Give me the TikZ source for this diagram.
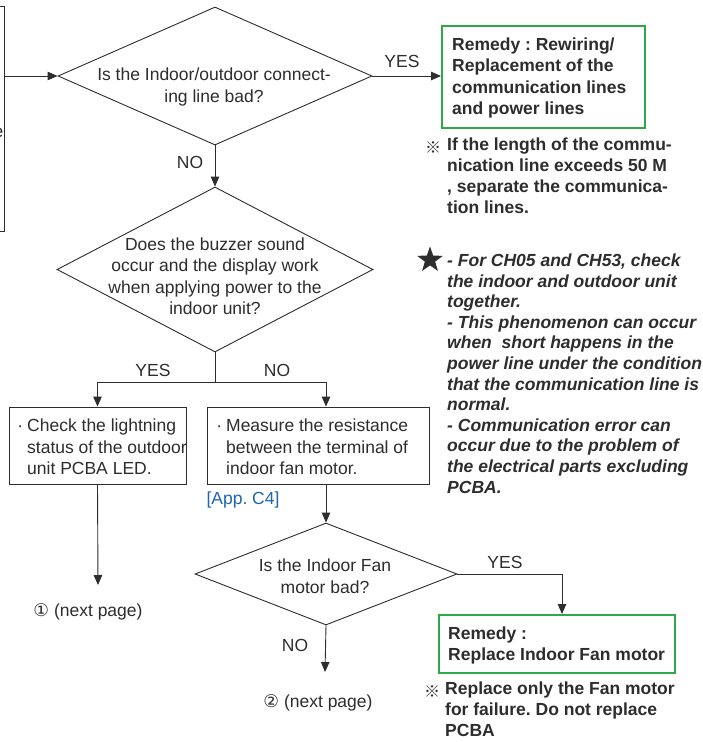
\documentclass[tikz,border=0pt]{standalone}
\usepackage{fontspec}
\setmainfont{Liberation Sans}
\newfontfamily\dejavu{DejaVu Sans}
\newfontfamily\cjkfont{Noto Sans CJK JP}
\usetikzlibrary{shapes.geometric,arrows.meta,calc}
\definecolor{ink}{RGB}{45,45,45}
\definecolor{remgreen}{RGB}{45,168,75}
\definecolor{appblue}{RGB}{30,100,175}
\frenchspacing
\tikzset{
  base/.style={font=\fontsize{17.5}{21.5}\selectfont, text=ink},
  dia/.style={diamond, draw=ink, line width=0.9pt, inner sep=0pt},
  procbox/.style={rectangle, draw=ink, line width=0.9pt, inner sep=0pt},
  greenbox/.style={rectangle, draw=remgreen, line width=2pt, inner sep=0pt},
  txt/.style={base, inner sep=0pt, align=center},
  ltxt/.style={base, inner sep=0pt, align=left},
  boldtxt/.style={ltxt, font=\fontsize{17.5}{21.5}\selectfont\bfseries},
  italtxt/.style={ltxt, font=\fontsize{17.5}{20.6}\selectfont\bfseries\itshape},
  notetxt/.style={ltxt, font=\fontsize{17.5}{21}\selectfont\bfseries},
  lbl/.style={base, inner sep=0pt},
  arr/.style={draw=ink, line width=0.9pt, -{Triangle[length=10pt,width=8.5pt]}},
  ln/.style={draw=ink, line width=0.9pt}
}
\begin{document}
\begin{tikzpicture}[x=1pt,y=-1pt]
\useasboundingbox (0,0) rectangle (702,742);
\clip (0,0) rectangle (702,742);
\fill[white] (0,0) rectangle (702,742);

% partial box on the left
\node[procbox, minimum width=64pt, minimum height=225pt] (lbox) at (-28,118.5) {};
\node[lbl, anchor=east] (lboxe) at (3.5,133) {e};

% diamonds
\node[dia, minimum width=314pt, minimum height=138pt] (d1) at (215,76) {};
\node[txt] (d1t) at (214,87) {Is the Indoor/outdoor connect-\\ing line bad?};

\node[dia, minimum width=316pt, minimum height=165pt] (d2) at (215,269.5) {};
\node[txt] (d2t) at (215,276) {Does the buzzer sound\\occur and the display work\\when applying power to the\\indoor unit?};

\node[dia, minimum width=262pt, minimum height=102pt] (d3) at (326,574) {};
\node[txt] (d3t) at (325,576) {Is the Indoor Fan\\motor bad?};

% process boxes
\node[procbox, minimum width=177pt, minimum height=77pt] (bl) at (97.5,445.5) {};
\node[ltxt, anchor=west] (blt) at (27,447) {\llap{·\hspace{4pt}}Check the lightning\\status of the outdoor\\unit PCBA LED.};

\node[procbox, minimum width=222pt, minimum height=77pt] (br) at (318,445.5) {};
\node[ltxt, anchor=west] (brt) at (226,447) {\llap{·\hspace{4pt}}Measure the resistance\\between the terminal of\\indoor fan motor.};

% green remedy boxes
\node[greenbox, minimum width=203pt, minimum height=102pt] (g1) at (543.5,77) {};
\node[boldtxt, anchor=west] (g1t) at (452,78) {Remedy : Rewiring/\\Replacement of the\\communication lines\\and power lines};

\node[greenbox, minimum width=236pt, minimum height=58pt] (g2) at (557,644) {};
\node[boldtxt, anchor=west] (g2t) at (448,645.5) {Remedy :\\Replace Indoor Fan motor};

% notes
\node[lbl, anchor=center, font=\cjkfont\fontsize{16}{20}\selectfont] (n1m) at (433,148) {※};
\node[notetxt, anchor=north west] (n1t) at (447,138) {If the length of the commu-\\nication line exceeds 50 M\\, separate the communica-\\tion lines.};

\node[star, star points=5, star point ratio=2.5, fill=ink, draw=none, minimum size=27pt, inner sep=0pt] (star) at (430,260) {};
\node[italtxt, anchor=west] (st) at (447,373.5) {- For CH05 and CH53, check\\the indoor and outdoor unit\\together.\\- This phenomenon can occur\\when\ \ short happens in the\\power line under the condition\\that the communication line is\\normal.\\- Communication error can\\occur due to the problem of\\the electrical parts excluding\\PCBA.};

\node[lbl, anchor=center, font=\cjkfont\fontsize{16}{20}\selectfont] (n2m) at (432,692) {※};
\node[notetxt, anchor=north west] (n2t) at (445,682) {Replace only the Fan motor\\for failure. Do not replace\\PCBA};

% terminal texts
\coordinate (c1) at (98,585);
\coordinate (c2) at (325,672);
\node[lbl] (p1) at (88,612) {{\dejavu ①} (next page)};
\node[lbl] (p2) at (318,703) {{\dejavu ②} (next page)};
\node[lbl, text=appblue] (app) at (243,500) {[App. C4]};

% connectors
\coordinate (j) at (215,382);
\draw[arr] (lbox.east |- d1.west) -- (d1.west);
\draw[arr] (d1.east) -- (d1.east -| g1.west);
\draw[arr] (d1.south) -- (d2.north);
\draw[ln] (d2.south) -- (j);
\draw[arr] (j) -| (bl.north);
\draw[arr] (j) -| (d3.north |- br.north);
\draw[arr] (d3.north |- br.south) -- (d3.north);
\draw[arr] (bl.south) -- (c1);
\draw[arr] (d3.south) -- (c2);
\draw[arr] (d3.east) -| ([xshift=5pt]g2.north);

% branch labels
\node[lbl] (y1) at (402,61) {YES};
\node[lbl] (no1) at (190,162) {NO};
\node[lbl] (y2) at (153,370) {YES};
\node[lbl] (no2) at (277,370) {NO};
\node[lbl] (no3) at (295,645) {NO};
\node[lbl] (y3) at (505,562) {YES};
\end{tikzpicture}
\end{document}
